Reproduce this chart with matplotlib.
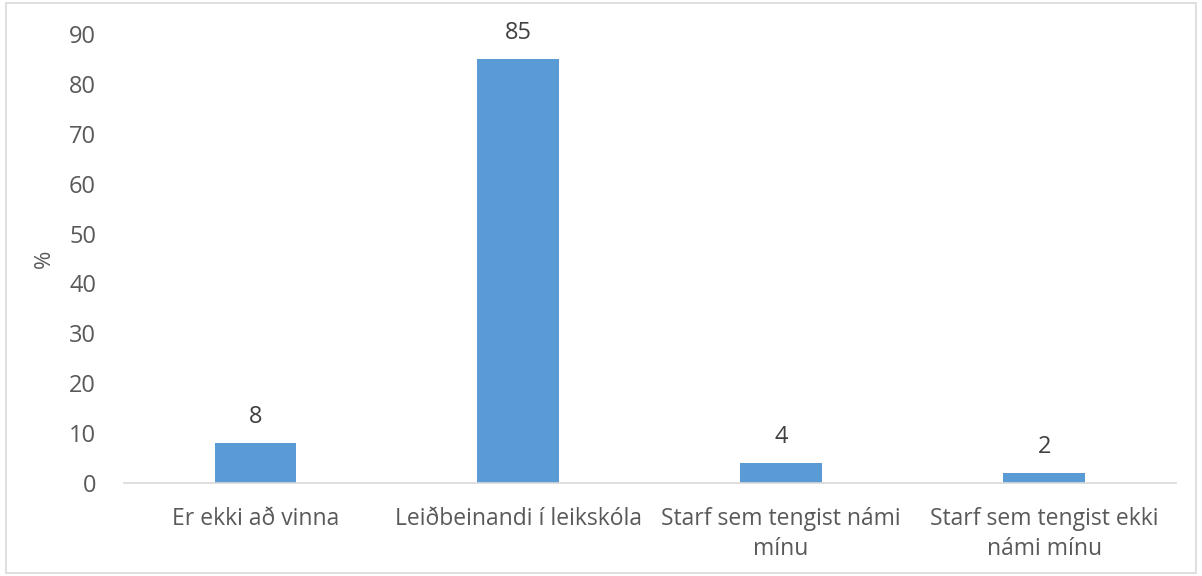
import matplotlib.pyplot as plt
from matplotlib.patches import Rectangle

categories = ['Er ekki að vinna', 'Leiðbeinandi í leikskóla',
              'Starf sem tengist námi\nmínu', 'Starf sem tengist ekki\nnámi mínu']
values = [8, 85, 4, 2]
yticks = [0, 10, 20, 30, 40, 50, 60, 70, 80, 90]

plt.rcParams['font.family'] = ['Open Sans', 'DejaVu Sans']

fig = plt.figure(figsize=(12.02, 5.76), dpi=100)
ax = fig.add_axes([0.103, 0.1615, 0.875, 0.7795])

x = range(len(categories))
bars = ax.bar(x, values, width=0.31, color='#5B9BD5', zorder=2)

# value labels above the bars
for b, v in zip(bars, values):
    ax.annotate(str(v), (b.get_x() + b.get_width() / 2, v),
                xytext=(0, 10), textcoords='offset points',
                ha='center', va='bottom', fontsize=17, color='#404040')

ax.set_xlim(-0.5, len(categories) - 0.5)
ax.set_ylim(0, 90)
ax.set_yticks(yticks)
ax.set_xticks(list(x))
ax.set_xticklabels(categories, fontsize=16.5, color='#595959', linespacing=1.35)
ax.tick_params(axis='y', labelsize=17, labelcolor='#595959', length=0, pad=20)
ax.tick_params(axis='x', length=0, pad=17)
ax.set_ylabel('%', fontsize=16, color='#595959', labelpad=10)

for s in ['top', 'right', 'left']:
    ax.spines[s].set_visible(False)
ax.spines['bottom'].set_color('#D9D9D9')
ax.spines['bottom'].set_linewidth(1.2)

# light frame around the whole chart
fig.patches.append(Rectangle((0.005, 0.005), 0.99, 0.989, transform=fig.transFigure,
                             fill=False, edgecolor='#D9D9D9', linewidth=1.2))

fig.savefig('out.png', dpi=100)
